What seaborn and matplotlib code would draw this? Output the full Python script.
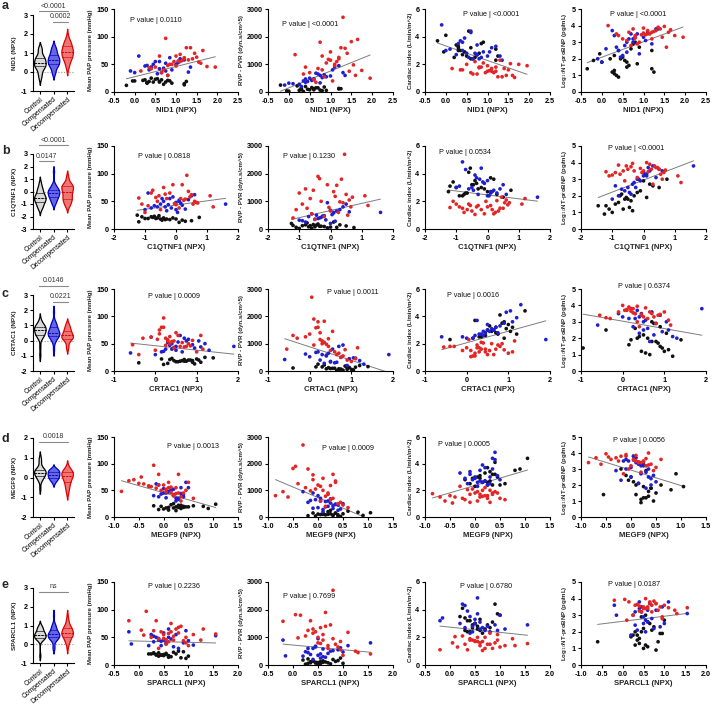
import numpy as np
import pandas as pd
import matplotlib
matplotlib.use("Agg")
import matplotlib.pyplot as plt
import seaborn as sns

nan = np.nan
groups = ["Control", "Compensated", "Decompensated"]

# ---------------- per-patient data -------------
# Control
ctrl_mPAP = [18, 22, 14, 20, 25, 17, 19, 12, 21, 16, 23, 20, 15, 19, 24, 18, 13, 21, 17, 20, 22, 16, 19, 18, nan]
ctrl_PVR = [100, 60, 150, 30, 200, 90, 120, 250, 50, 140, 80, 180, 110, 20, 160, 70, 130, 220, 100, 40, 150, 60, 120, 80, nan]
ctrl_CI = [2.9, 3.4, 2.5, 4.1, 2.7, 3.0, 2.4, 3.7, 2.8, 3.2, 2.6, 3.5, 2.3, 3.0, 4.4, 2.7, 3.1, 2.5, 3.3, 2.9, 2.4, 3.6, 2.6, 3.2, nan]
ctrl_NT = [2.0, 1.2, 2.6, 1.8, 0.9, 2.2, 1.5, 1.9, 3.0, 1.3, 2.1, 1.7, 2.5, 1.0, 1.9, 2.9, 1.4, 2.0, 1.1, 2.3, 1.6, 2.7, 1.2, 1.8, 1.4]
ctrl_NID1 = [0.45, 0.25, 0.7, 0.0, 0.4, 0.3, 0.6, -0.2, 0.8, 0.3, 0.5, 0.85, 1.2, 0.35, 0.55, 0.75, 1.2, 0.2, 0.3, -0.05, 0.65, 0.9, 1.25, 0.6, -0.35]
ctrl_C1QTNF1 = [-0.3, -1.1, 0.3, -0.6, -1.25, -0.2, -0.9, 0.1, 0.75, -0.45, -0.7, -0.4, 0.5, -1.0, -0.55, 0.0, -1.2, -0.75, -0.35, -0.1, -0.8, 0.2, -0.65, -0.5, -1.45]
ctrl_CRTAC1 = [0.6, 1.0, 0.3, 0.8, 1.2, 0.5, 0.9, 0.2, 0.7, 1.1, 0.4, 0.85, -0.4, 0.65, 1.4, 0.75, 0.95, 0.35, 0.55, 1.05, 0.15, 0.9, 0.45, 0.7, -0.95]
ctrl_MEGF9 = [0.1, 0.3, -0.1, 0.4, 0.2, 0.05, 0.5, 0.25, -0.2, 0.35, 0.15, 0.8, 0.0, 0.45, 1.05, 0.3, 0.1, 0.6, 0.2, -0.05, 0.35, 0.9, 0.25, 0.4, -0.55]
ctrl_SPARCL1 = [0.45, 0.3, 0.6, 0.25, 0.8, 0.5, 0.35, 0.95, 0.55, 0.4, 0.7, 0.2, 0.65, 0.5, 0.9, 0.45, 0.85, 0.3, 0.6, 0.75, 0.4, 1.0, 0.55, 0.35, -0.6]

# Compensated
comp_mPAP = [45, 52, 38, 60, 33, 48, 40, 55, 36, 65, 43, 50, 30, 58, 47, 42, 53, 35, 62, 40, 45, 55, 38, 50, 44, 35]
comp_PVR = [350, 600, 250, 900, 420, 200, 550, 480, 700, 300, 650, 380, 520, 950, 280, 450, 800, 320, 620, 400, 600, 500, 330, 580, 470, 680]
comp_CI = [3.0, 2.7, 4.85, 3.2, 2.5, 3.5, 2.9, 4.4, 2.6, 3.1, 2.8, 3.9, 2.4, 3.3, 2.7, 4.3, 2.9, 3.0, 2.5, 3.7, 2.3, 2.8, 3.4, 2.6, 3.6, 2.4]
comp_NT = [2.5, 3.2, 2.0, 3.6, 2.8, 3.4, 2.3, 3.0, 3.8, 2.6, 3.5, 2.1, 3.3, 2.9, 3.7, 2.4, 3.1, 1.8, 3.5, 2.7, 3.8, 2.2, 3.0, 3.3, 2.5, 3.2]
comp_NID1 = [0.4, 0.75, -0.1, 1.1, 0.55, 0.3, 0.9, 0.6, 1.3, 0.1, 0.7, 0.45, 0.8, 1.2, 0.25, 0.6, 1.05, 0.0, 0.85, 0.35, 1.35, 0.5, 0.75, 1.0, 0.4, 0.65]
comp_C1QTNF1 = [-0.5, 0.1, -0.8, 0.5, -0.3, 0.0, -0.6, -0.2, 0.3, -0.9, 0.2, -0.4, 0.05, -0.1, 0.15, -0.7, 0.4, -1.0, 0.6, -0.35, 1.6, -0.45, -0.15, 0.1, -0.25, 0.0]
comp_CRTAC1 = [0.5, 0.3, 1.3, 0.7, -0.6, 0.9, 0.4, 1.05, 0.2, 0.6, 0.45, 1.2, 0.0, 0.8, 0.35, 0.95, 0.55, 0.65, -0.1, 0.25, 1.9, 0.75, 0.5, 0.4, 1.1, 0.15]
comp_MEGF9 = [0.0, 0.2, 0.4, -0.1, 0.3, 0.1, -0.2, 0.35, 0.05, 0.45, -0.05, 0.15, 0.25, -0.3, 0.1, 0.4, 0.0, 0.3, -0.15, 0.2, 0.05, 0.5, -0.1, 0.15, 0.35, 0.25]
comp_SPARCL1 = [0.5, 0.3, 0.55, -0.2, 0.7, 0.4, 0.9, 0.25, 1.1, 0.6, 0.45, 0.35, 0.8, 0.5, 0.65, 0.3, 1.55, 0.2, 0.95, 0.55, 0.4, 0.75, -0.15, 0.6, 1.0, 0.45]

# Decompensated
dec_mPAP = [55, 97, 45, 62, 50, 80, 42, 58, 65, 47, 70, 38, 56, 50, 75, 44, 60, 35, 54, 65, 48, 80, 45, 57, 40, 63, 52, 30, 68, 46, 55, 60]
dec_PVR = [1000, 1800, 700, 1250, 550, 1580, 900, 2700, 450, 1150, 750, 1350, 400, 1050, 1900, 650, 1200, 350, 980, 1450, 800, 1600, 500, 1100, 850, 1820, 600, 1300, 950, 780, 1180, 1400]
dec_CI = [1.7, 1.3, 2.0, 1.5, 1.8, 1.1, 1.6, 2.3, 1.4, 1.9, 1.2, 1.7, 1.55, 2.1, 1.05, 1.6, 1.8, 1.3, 2.05, 1.5, 1.75, 1.1, 1.9, 1.4, 2.2, 1.6, 1.2, 1.8, 1.5, 2.0, 1.4, 1.7]
dec_NT = [3.5, 3.8, 3.2, 3.6, 2.9, 3.9, 3.4, 3.7, 3.1, 3.55, 3.3, 4.0, 3.45, 3.0, 3.75, 3.5, 3.2, 3.6, 2.7, 3.85, 3.4, 3.65, 3.3, 3.5, 2.8, 3.95, 3.6, 3.25, 3.7, 3.4, 3.45, 3.8]
dec_NID1 = [1.1, 0.75, 0.5, 1.2, 0.85, 1.35, 0.4, 1.3, 0.6, 1.0, 1.45, 0.15, 1.05, 0.9, 1.65, 0.35, 1.2, 0.65, 1.55, 1.0, 0.8, 1.25, 1.95, 1.15, 0.7, 1.5, 1.6, 0.8, 1.1, 1.75, 0.95, 1.4]
dec_C1QTNF1 = [-0.3, 0.35, -1.1, 0.5, -0.6, 0.2, -0.9, 0.45, -0.2, 0.7, -0.75, 0.1, -1.2, 0.6, -0.4, 0.0, 1.1, -0.5, 0.3, -0.8, 0.65, -0.1, 0.55, -0.65, 1.2, -0.35, 0.25, -1.0, 0.4, -0.05, 0.15, -0.55]
dec_CRTAC1 = [0.3, 0.2, 0.6, -0.1, 0.8, 0.15, 0.45, 0.05, 1.1, 0.25, 0.5, 0.0, 0.9, 0.35, 0.1, 0.7, -0.3, 1.0, 0.4, 0.55, -0.55, 0.2, 0.75, 0.3, 1.15, 0.35, 0.65, -0.4, 0.1, 0.85, 0.45, 0.25]
dec_MEGF9 = [0.1, -0.2, 0.3, -0.4, 0.45, -0.1, 0.2, -0.3, 0.5, 0.05, -0.6, 0.35, 0.15, -0.05, -0.45, 0.25, 0.0, 0.6, -0.15, 0.1, -0.85, 0.3, 0.4, -0.25, 0.2, -0.5, 0.05, 0.35, -0.7, 0.15, 0.25, -0.1]
dec_SPARCL1 = [0.5, 0.15, 0.7, 0.3, 0.95, -0.2, 0.6, 0.8, 1.3, 0.4, 0.85, 0.55, 1.55, 0.25, 0.65, 0.9, 0.45, 1.0, 0.1, 0.75, 0.5, 0.35, 1.25, 0.6, 0.95, 0.05, 0.7, 0.4, 0.8, 0.55, 1.1, 0.65]

proteins = ["NID1", "C1QTNF1", "CRTAC1", "MEGF9", "SPARCL1"]
clinical = ["mPAP", "PVR", "CI", "NT"]
clin_labels = ["Mean PAP pressure (mmHg)", "RVP - PVR (dyn.s/cm^5)",
               "Cardiac index (L/min/m^2)", r"Log$_{10}$NT-proBNP (pg/mL)"]
p_values = [["0.0110", "<0.0001", "<0.0001", "<0.0001"],
            ["0.0818", "0.1230", "0.0534", "<0.0001"],
            ["0.0009", "0.0011", "0.0016", "0.6374"],
            ["0.0013", "0.0009", "0.0005", "0.0056"],
            ["0.2236", "0.7699", "0.6780", "0.0187"]]
brackets = [[(0, 2, "<0.0001"), (1, 2, "0.0002")],
            [(0, 2, "<0.0001"), (0, 1, "0.0147")],
            [(0, 2, "0.0146"), (1, 2, "0.0221")],
            [(0, 2, "0.0018")],
            [(0, 2, "ns")]]
panel_letters = ["a", "b", "c", "d", "e"]

g = globals()
frames = []
for grp, pre in zip(groups, ["ctrl", "comp", "dec"]):
    d = {v: g[f"{pre}_{v}"] for v in proteins + clinical}
    d["group"] = grp
    frames.append(pd.DataFrame(d))
df = pd.concat(frames, ignore_index=True)

# ---------------- style / layout ----------------
sns.set_style("ticks")
plt.rcParams["font.family"] = ["Liberation Sans", "DejaVu Sans"]
plt.rcParams["axes.unicode_minus"] = False

W, H = 713, 708
fig = plt.figure(figsize=(W / 100, H / 100), dpi=100)

def add_ax(l, t, r, b):
    return fig.add_axes([l / W, 1 - b / H, (r - l) / W, (b - t) / H])

pt_colors = {"Control": "#111111", "Compensated": "#1f1fd0", "Decompensated": "#e42525"}
fill_colors = {"Control": "#d9d9d9", "Compensated": "#5252f5", "Decompensated": "#ff6464"}
edge_colors = ["#000000", "#0000c8", "#e00000"]

VX = (33, 74)
SX = [(114, 238), (268, 393), (425, 550), (581, 706)]
ROW_S = [(9, 92), (146, 229), (289, 371), (437, 517), (582, 665)]
ROW_V = [(15, 91), (154, 229), (295, 371), (438, 517), (588, 663)]
VLIM = [(-1, 3), (-3, 3), (-2, 3), (-2, 2), (-1, 3)]
XLIM = [(-0.5, 2.5, 0.5), (-2, 2, 1), (-1, 2, 1), (-1.0, 1.5, 0.5), (-0.5, 2.0, 0.5)]
CLIM = [(0, 150, 50), (0, 3000, 1000), (0, 6, 2), (0, 5, 1)]
PT = [[(130, 20), (282, 24), (463, 14), (610, 15)],
      [(138, 157), (283, 156), (439, 153), (608, 148)],
      [(148, 297), (327, 293), (447, 295), (618, 287)],
      [(167, 447), (322, 449), (438, 445), (613, 440)],
      [(148, 586), (283, 597), (460, 586), (608, 584)]]
LETTER_Y = [0, 145, 288, 433, 579]

TICK_FS = 5.2
def style_ax(ax):
    sns.despine(ax=ax)
    for s in ["left", "bottom"]:
        ax.spines[s].set_linewidth(0.8)
        ax.spines[s].set_color("black")
    ax.tick_params(width=0.8, length=2.5, pad=1.5, labelsize=TICK_FS, colors="black")
    for lab in ax.get_xticklabels() + ax.get_yticklabels():
        lab.set_fontweight("bold")

for r, prot in enumerate(proteins):
    # ---- violin ----
    vt, vb = ROW_V[r]
    ax = add_ax(VX[0], vt, VX[1], vb)
    sns.violinplot(data=df, x="group", y=prot, hue="group", order=groups, hue_order=groups,
                   palette=fill_colors, inner="quart", linewidth=0.9, width=0.85,
                   bw_adjust=0.75, legend=False, ax=ax)
    for i, coll in enumerate(ax.collections[:3]):
        coll.set_edgecolor(edge_colors[i])
        coll.set_linewidth(0.9)
    for i, ln in enumerate(ax.lines[:9]):
        ln.set_color(edge_colors[i // 3])
        ln.set_linewidth(0.7)
    ax.axhline(0, color="#999999", ls=(0, (1, 1.5)), lw=0.8, zorder=0.5)
    lo, hi = VLIM[r]
    ax.set_ylim(lo, hi)
    ax.set_yticks(range(lo, hi + 1))
    ax.set_xlim(-0.5, 2.5)
    ax.set_xticks([0, 1, 2])
    ax.set_xlabel("")
    ax.set_ylabel(f"{prot} (NPX)", fontsize=4.6, fontweight="bold", labelpad=3)
    style_ax(ax)
    ax.set_xticklabels(groups, rotation=40, ha="right", rotation_mode="anchor",
                       fontsize=4.9, fontweight="normal")
    ax.tick_params(axis="x", pad=1.0)
    # significance brackets
    px_per_unit = (vb - vt) / (hi - lo)
    nb = len(brackets[r])
    for k, (a_, b_, txt) in enumerate(brackets[r]):
        if nb == 2 and k == 0:
            yv = hi + (4 if r == 0 else 9) / px_per_unit
        elif k == 1:
            yv = hi - 7 / px_per_unit
        else:
            yv = hi - 4 / px_per_unit
        ax.plot([a_ - 0.05, b_ + 0.05], [yv, yv], color="#8a8a8a", lw=0.8, clip_on=False)
        ax.text((a_ + b_) / 2, yv + 1.5 / px_per_unit, txt, ha="center", va="bottom",
                fontsize=5.0, color="#333333", clip_on=False)
    fig.text(2 / W, 1 - LETTER_Y[r] / H, panel_letters[r], fontsize=9.0, fontweight="bold",
             va="top", ha="left")

    # ---- scatter panels ----
    st, sb = ROW_S[r]
    for c, clin in enumerate(clinical):
        ax = add_ax(SX[c][0], st, SX[c][1], sb)
        sns.regplot(data=df, x=prot, y=clin, scatter=False, ci=None, truncate=True,
                    color="#7d7d7d", line_kws=dict(lw=0.7), ax=ax)
        sns.scatterplot(data=df, x=prot, y=clin, hue="group", hue_order=groups,
                        palette=pt_colors, s=7, linewidth=0, legend=False, ax=ax, zorder=3)
        x0, x1, xs = XLIM[r]
        if r == 4 and c == 3:
            x0 = -1.0
        ax.set_xlim(x0, x1)
        xt = np.arange(x0, x1 + 1e-9, xs)
        ax.set_xticks(xt)
        if xs < 1:
            ax.set_xticklabels([f"{v:.1f}" for v in xt])
        else:
            ax.set_xticklabels([f"{int(round(v))}" for v in xt])
        y0, y1, ys = CLIM[c]
        ax.set_ylim(y0, y1)
        ax.set_yticks(np.arange(y0, y1 + 1e-9, ys))
        ax.set_xlabel(f"{prot} (NPX)", fontsize=5.6, fontweight="bold", labelpad=2)
        ax.set_ylabel(clin_labels[c], fontsize=4.4, fontweight="bold", labelpad=2)
        style_ax(ax)
        tx, ty = PT[r][c]
        fig.text(tx / W, 1 - ty / H, f"P value | {p_values[r][c]}", fontsize=5.2,
                 va="center", ha="left", color="#111111")

fig.savefig("out.png", dpi=100)
